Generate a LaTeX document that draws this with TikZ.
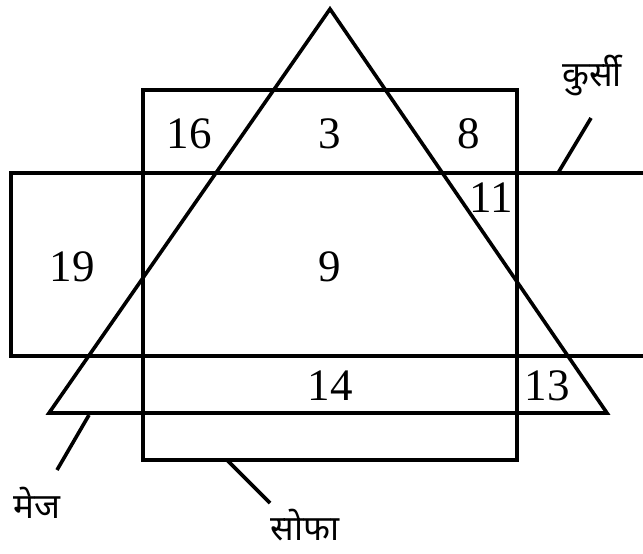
\documentclass[tikz,border=0pt]{standalone}
\usepackage{fontspec}
\setmainfont{Liberation Serif}
\newfontfamily\devfont[Script=Devanagari]{Noto Sans}
\begin{document}
\begin{tikzpicture}[x=1pt,y=-1pt,
  shape line/.style={draw=black,line width=3.6pt,line join=miter},
  leader/.style={draw=black,line width=3.6pt},
  num/.style={font=\fontsize{45}{45}\selectfont,inner sep=0pt},
  lab/.style={font=\devfont\fontsize{35}{35}\selectfont,inner sep=0pt}]
\useasboundingbox (0,0) rectangle (643,554);
% triangle (मेज)
\coordinate (tA) at (330,9);
\coordinate (tL) at (49,413);
\coordinate (tR) at (607,413);
% sofa rectangle
\coordinate (s1) at (143,90);
\coordinate (s2) at (517,460);
% chair rectangle
\coordinate (c1) at (11,173);
\coordinate (c2) at (650,356);
\draw[shape line] (s1) rectangle (s2);
\draw[shape line] (c1) rectangle (c2);
\draw[shape line] (tA) -- (tL) -- (tR) -- cycle;
% numbers
\node[num] (n16) at (189,134) {16};
\node[num] (n3) at (330,134) {3};
\node[num] (n8) at (469,134) {8};
\node[num] (n11) at (491,198) {11};
\node[num] (n19) at (72,267) {19};
\node[num] (n9) at (330,267) {9};
\node[num] (n14) at (330,386) {14};
\node[num] (n13) at (547,386) {13};
% labels
\node[lab] (lchair) at (592,76) {कुर्सी};
\node[lab] (ltable) at (37,503) {मेज};
\node[lab] (lsofa) at (305,525) {सोफा};
% leader lines
\coordinate (ch0) at (558,173);
\coordinate (ch1) at (591,118);
\coordinate (tb0) at (89,415);
\coordinate (tb1) at (57,470);
\coordinate (sf0) at (227,460);
\coordinate (sf1) at (270,503);
\draw[leader] (ch0) -- (ch1);
\draw[leader] (tb0) -- (tb1);
\draw[leader] (sf0) -- (sf1);
\end{tikzpicture}
\end{document}
